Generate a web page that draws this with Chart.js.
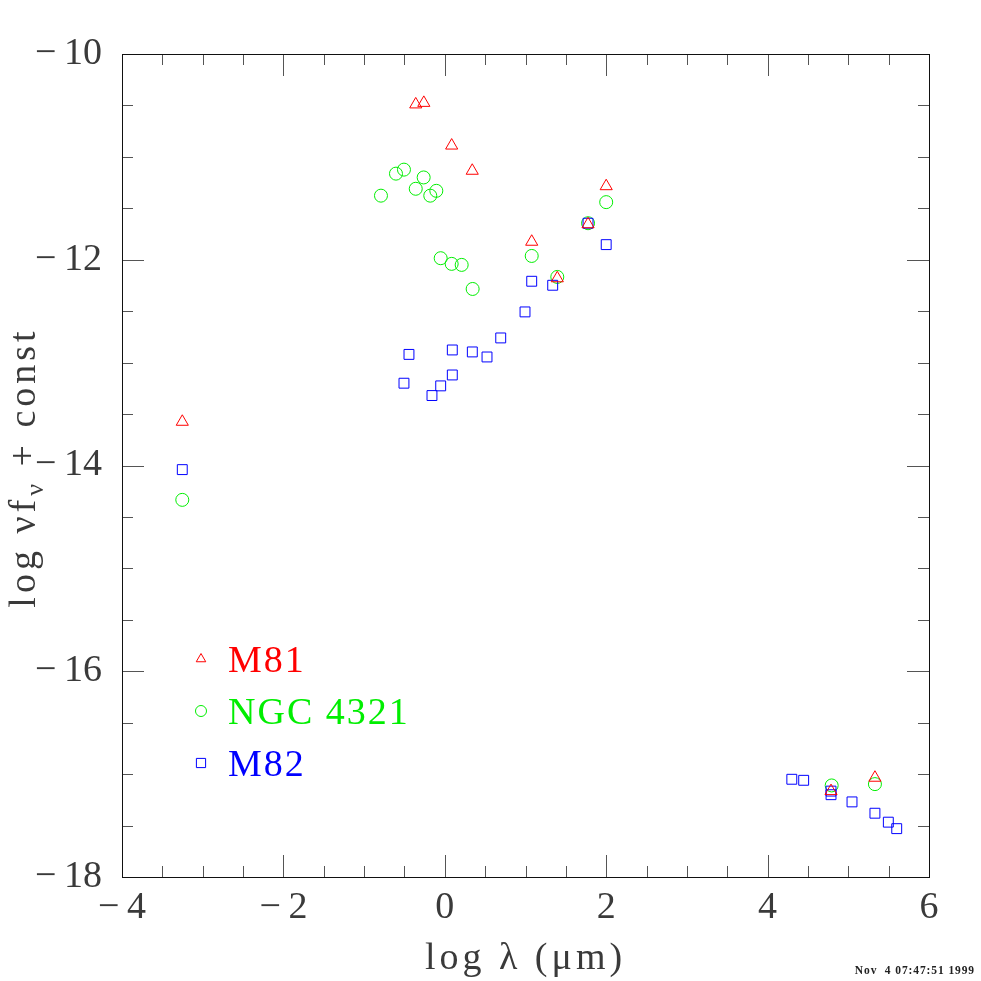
<!DOCTYPE html>
<html lang="en">
  <head>
    <meta charset="UTF-8" />
    <title>SED: M81, NGC 4321, M82</title>
    <script src="https://cdn.jsdelivr.net/npm/chart.js"></script>
    <style>
      html, body { margin: 0; padding: 0; background: #fff; }
      #wrap { width: 981px; height: 981px; }
    </style>
  </head>

  <body>
    <div id="wrap"><canvas id="sed" width="981" height="981"></canvas></div>

    <script>
      // data: log lambda (um) vs log nu f_nu + const
      const m81X = [-0.36, -0.26, 0.085, 0.34, 2.0, 1.775, 1.077, 1.394, -3.253, 5.33, 4.786];
      const m81Y = [-10.49, -10.475, -10.89, -11.135, -11.285, -11.655, -11.825, -12.18, -13.575, -17.035, -17.165];

      const ngcX = [-0.791, -0.605, -0.506, -0.262, -0.36, -0.18, -0.105, 2.0, 1.775, 1.077, 1.394,
                    -0.051, 0.085, 0.209, 0.345, -3.253, 4.794, 5.33];
      const ngcY = [-11.377, -11.163, -11.124, -11.2, -11.31, -11.377, -11.33, -11.44, -11.645, -11.963, -12.167,
                    -11.985, -12.04, -12.05, -12.284, -14.334, -17.11, -17.097];

      const m82X = [-0.444, -0.506, -0.159, -0.051, 0.093, 0.093, 0.341, 0.523, 0.693, 0.994, 1.077, 1.337,
                    2.0, 1.775, -3.253, 4.3, 4.447, 4.786, 4.786, 5.046, 5.33, 5.496, 5.6];
      const m82Y = [-12.92, -13.2, -13.32, -13.226, -13.12, -12.877, -12.896, -12.945, -12.76, -12.507, -12.209, -12.248,
                    -11.853, -11.645, -14.04, -17.05, -17.06, -17.165, -17.2, -17.27, -17.38, -17.467, -17.53];

      const xTickLabels = [-4, -2, 0, 2, 4, 6];
      const yTickLabels = [-10, -12, -14, -16, -18];

      const SERIF = "'Liberation Serif', 'Times New Roman', serif";
      const INK = "#3a3a3a";

      function pts(xs, ys) {
        return xs.map((x, i) => ({ x: x, y: ys[i] }));
      }

      function fmt(v) {
        return v < 0 ? "\u2212\u2009" + Math.abs(v) : String(v);
      }

      function series(label, xs, ys, color, style, radius, keyRadius, order) {
        return {
          label: label,
          data: pts(xs, ys),
          showLine: false,
          pointStyle: style,
          pointRadius: radius,
          pointBorderWidth: 1,
          borderColor: color,
          backgroundColor: "rgba(0,0,0,0)",
          keyRadius: keyRadius,
          order: order,
        };
      }

      // box, inward ticks on all four sides, titles, legend and date stamp
      const decor = {
        id: "decor",
        afterDraw(chart) {
          const ctx = chart.ctx;
          const a = chart.chartArea;
          const xs = chart.scales.x;
          const ys = chart.scales.y;

          ctx.save();
          ctx.lineWidth = 1;
          ctx.strokeStyle = "#555";
          ctx.beginPath();
          xs.ticks.forEach((t) => {
            const px = Math.round(xs.getPixelForValue(t.value)) + 0.5;
            const len = xTickLabels.includes(t.value) ? 22 : 11;
            ctx.moveTo(px, a.bottom); ctx.lineTo(px, a.bottom - len);
            ctx.moveTo(px, a.top); ctx.lineTo(px, a.top + len);
          });
          ys.ticks.forEach((t) => {
            const py = Math.round(ys.getPixelForValue(t.value)) + 0.5;
            const len = yTickLabels.includes(t.value) ? 22 : 11;
            ctx.moveTo(a.left, py); ctx.lineTo(a.left + len, py);
            ctx.moveTo(a.right, py); ctx.lineTo(a.right - len, py);
          });
          ctx.stroke();

          ctx.strokeStyle = "#111";
          ctx.strokeRect(Math.round(a.left) + 0.5, Math.round(a.top) + 0.5,
                         Math.round(a.right - a.left), Math.round(a.bottom - a.top));

          // x title
          ctx.fillStyle = INK;
          ctx.letterSpacing = "4px";
          ctx.font = "38px " + SERIF;
          ctx.textAlign = "center";
          ctx.textBaseline = "alphabetic";
          ctx.fillText("log \u03BB (\u03BCm)", (a.left + a.right) / 2, 969);

          // y title, rotated, with subscript nu
          const parts = [
            { t: "log \u03BDf", size: 38, dy: 0 },
            { t: "\u03BD", size: 26, dy: 8 },
            { t: " + const", size: 38, dy: 0 },
          ];
          let total = 0;
          parts.forEach((p) => {
            ctx.font = p.size + "px " + SERIF;
            p.w = ctx.measureText(p.t).width;
            total += p.w;
          });
          ctx.translate(35, (a.top + a.bottom) / 2 + 2 + total / 2);
          ctx.rotate(-Math.PI / 2);
          ctx.textAlign = "left";
          let cx = 0;
          parts.forEach((p) => {
            ctx.font = p.size + "px " + SERIF;
            ctx.fillText(p.t, cx, p.dy);
            cx += p.w;
          });
          ctx.setTransform(1, 0, 0, 1, 0, 0);
          ctx.letterSpacing = "0px";

          // legend inside the plot
          chart.data.datasets.forEach((ds, i) => {
            const y = 659 + i * 52;
            ctx.strokeStyle = ds.borderColor;
            ctx.fillStyle = "rgba(0,0,0,0)";
            ctx.lineWidth = 1;
            Chart.helpers.drawPoint(ctx, { pointStyle: ds.pointStyle, radius: ds.keyRadius, rotation: 0, borderWidth: 1 }, 201, y);
            ctx.fillStyle = ds.borderColor;
            ctx.font = "38px " + SERIF;
            ctx.letterSpacing = "2px";
            ctx.textAlign = "left";
            ctx.textBaseline = "alphabetic";
            ctx.fillText(ds.label, 228, y + 13);
            ctx.letterSpacing = "0px";
          });

          // date stamp
          ctx.fillStyle = "#222";
          ctx.font = "bold 11.5px " + SERIF;
          ctx.letterSpacing = "0.9px";
          ctx.textAlign = "right";
          ctx.fillText("Nov  4 07:47:51 1999", 975, 974);
          ctx.restore();
        },
      };

      new Chart(document.getElementById("sed"), {
        type: "scatter",
        data: {
          datasets: [
            series("M81", m81X, m81Y, "#ff0000", "triangle", 7, 5.5, 1),
            series("NGC 4321", ngcX, ngcY, "#00ee00", "circle", 6.5, 5.5, 3),
            series("M82", m82X, m82Y, "#0000ff", "rect", 7, 6.5, 2),
          ],
        },
        options: {
          responsive: false,
          animation: false,
          events: [],
          layout: { padding: { top: 54, right: 52, left: 0, bottom: 0 } },
          plugins: { legend: { display: false }, tooltip: { enabled: false } },
          scales: {
            x: {
              type: "linear",
              min: -4,
              max: 6,
              grid: { display: false, drawTicks: false },
              border: { display: false },
              ticks: {
                stepSize: 0.5,
                autoSkip: false,
                maxRotation: 0,
                padding: 8,
                color: INK,
                font: { family: SERIF, size: 38 },
                callback: (v) => (xTickLabels.includes(v) ? fmt(v) : ""),
              },
              afterFit: (s) => { s.height = 104; },
            },
            y: {
              type: "linear",
              min: -18,
              max: -10,
              grid: { display: false, drawTicks: false },
              border: { display: false },
              ticks: {
                stepSize: 0.5,
                autoSkip: false,
                padding: 20,
                color: INK,
                font: { family: SERIF, size: 38 },
                callback: (v) => (yTickLabels.includes(v) ? fmt(v) : ""),
              },
              afterFit: (s) => { s.width = 122; },
            },
          },
        },
        plugins: [decor],
      });
    </script>
  </body>
</html>
